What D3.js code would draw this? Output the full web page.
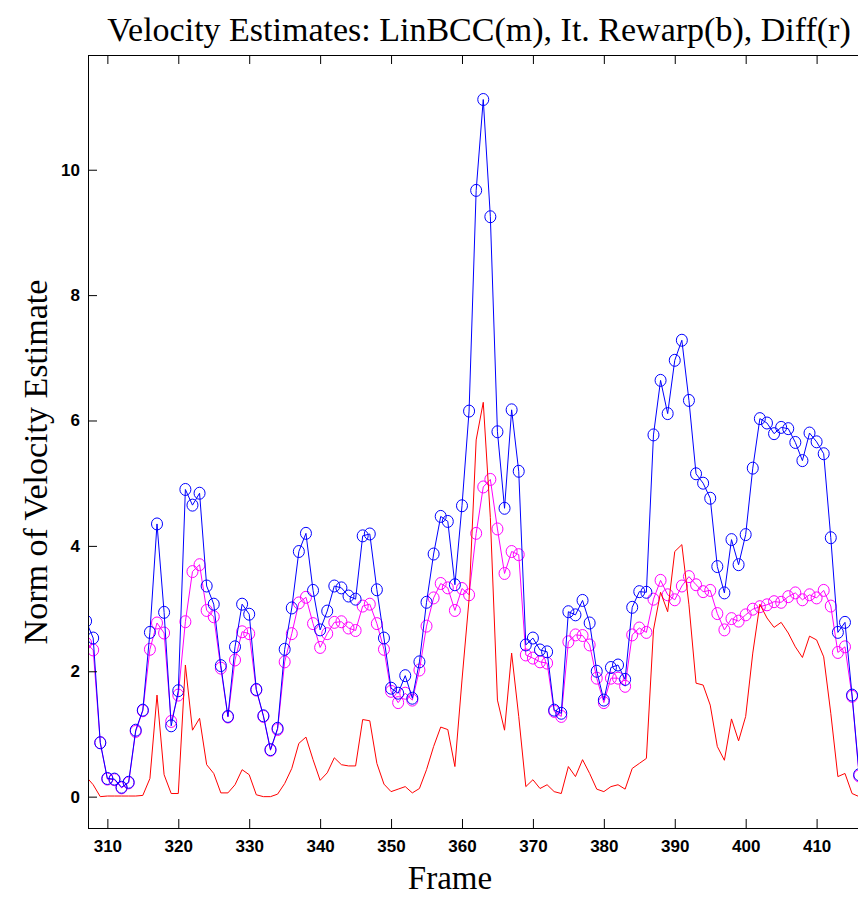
<!DOCTYPE html>
<html>
<head>
<meta charset="utf-8">
<script src="https://cdn.jsdelivr.net/npm/d3@7"></script>
<style>
  body { margin: 0; background: #fff; }
  svg { display: block; }
</style>
</head>
<body>
<div id="chart"></div>
<script>
// frames 307 .. 416
var frames = d3.range(307, 417);

// LinBCC (magenta)
var linbcc = [2.45, 2.34, 0.86, 0.28, 0.27, 0.14, 0.22, 1.04, 1.37, 2.35,
  2.77, 2.61, 1.20, 1.62, 2.79, 3.59, 3.70, 2.97, 2.87, 2.05,
  1.27, 2.18, 2.63, 2.60, 1.70, 1.28, 0.74, 1.07, 2.15, 2.60,
  3.09, 3.18, 2.76, 2.38, 2.60, 2.78, 2.79, 2.69, 2.65, 3.04,
  3.07, 2.76, 2.35, 1.68, 1.50, 1.65, 1.54, 2.02, 2.72, 3.17,
  3.40, 3.33, 2.97, 3.32, 3.22, 4.20, 4.94, 5.06, 4.27, 3.56,
  3.91, 3.86, 2.26, 2.21, 2.15, 2.13, 1.36, 1.28, 2.47, 2.58,
  2.57, 2.42, 1.89, 1.50, 1.89, 1.89, 1.76, 2.58, 2.69, 2.62,
  3.15, 3.45, 3.22, 3.14, 3.36, 3.51, 3.38, 3.27, 3.29, 2.92,
  2.66, 2.84, 2.80, 2.90, 2.99, 3.03, 3.06, 3.11, 3.10, 3.19,
  3.25, 3.14, 3.22, 3.17, 3.29, 3.04, 2.30, 2.39, 1.60, 0.33];

// It. Rewarp (blue)
var rewarp = [2.80, 2.53, 0.86, 0.29, 0.28, 0.15, 0.23, 1.06, 1.38, 2.62,
  4.35, 2.94, 1.13, 1.69, 4.90, 4.65, 4.84, 3.36, 3.07, 2.09,
  1.28, 2.39, 3.07, 2.91, 1.71, 1.29, 0.75, 1.09, 2.35, 3.01,
  3.91, 4.20, 3.29, 2.66, 2.96, 3.36, 3.33, 3.20, 3.15, 4.16,
  4.19, 3.30, 2.53, 1.73, 1.65, 1.93, 1.57, 2.15, 3.10, 3.87,
  4.47, 4.39, 3.38, 4.64, 6.15, 9.67, 11.12, 9.25, 5.82, 4.60,
  6.17, 5.19, 2.42, 2.53, 2.34, 2.31, 1.38, 1.33, 2.95, 2.90,
  3.13, 2.77, 2.00, 1.54, 2.06, 2.10, 1.87, 3.02, 3.27, 3.26,
  5.77, 6.64, 6.11, 6.96, 7.28, 6.32, 5.15, 5.00, 4.76, 3.67,
  3.25, 4.10, 3.70, 4.18, 5.24, 6.03, 5.96, 5.79, 5.89, 5.87,
  5.65, 5.36, 5.80, 5.66, 5.47, 4.13, 2.62, 2.78, 1.62, 0.35];

// Diff (red)
var diff = [0.32, 0.19, 0.00, 0.01, 0.01, 0.01, 0.01, 0.01, 0.02, 0.29,
  1.62, 0.35, 0.05, 0.05, 2.10, 1.06, 1.25, 0.51, 0.37, 0.06,
  0.06, 0.19, 0.43, 0.35, 0.03, 0.00, 0.00, 0.04, 0.21, 0.45,
  0.85, 0.95, 0.59, 0.26, 0.38, 0.62, 0.51, 0.49, 0.49, 1.23,
  1.21, 0.53, 0.20, 0.08, 0.12, 0.16, 0.06, 0.13, 0.43, 0.80,
  1.11, 1.07, 0.48, 1.86, 3.15, 5.69, 6.29, 4.45, 1.54, 1.06,
  2.29, 1.28, 0.16, 0.27, 0.13, 0.19, 0.08, 0.05, 0.48, 0.32,
  0.59, 0.37, 0.12, 0.08, 0.16, 0.19, 0.12, 0.45, 0.53, 0.61,
  2.66, 3.26, 2.95, 3.91, 4.02, 3.06, 1.81, 1.78, 1.46, 0.80,
  0.58, 1.24, 0.89, 1.28, 2.29, 3.07, 2.85, 2.70, 2.78, 2.61,
  2.39, 2.22, 2.56, 2.50, 2.23, 1.33, 0.32, 0.37, 0.05, 0.00];

var xTicks = [310, 320, 330, 340, 350, 360, 370, 380, 390, 400, 410];
var yTicks = [0, 2, 4, 6, 8, 10];

var width = 858, height = 911;
// plot box (right side runs past the picture edge)
var pl = 88, pt = 55, pr = 862, pb = 828;

var svg = d3.select("#chart").append("svg")
  .attr("width", width)
  .attr("height", height)
  .style("background", "#fff");

var x = d3.scaleLinear().domain([307.27, 416.4]).range([pl, pr]);
var y = d3.scaleLinear().domain([-0.5, 11.83]).range([pb, pt]);

svg.append("clipPath").attr("id", "plotclip")
  .append("rect")
  .attr("x", pl).attr("y", pt)
  .attr("width", pr - pl).attr("height", pb - pt);

var g = svg.append("g").attr("clip-path", "url(#plotclip)");

function pts(vals) {
  return frames.map(function(f, i) { return [f, vals[i]]; });
}

var line = d3.line()
  .x(function(d) { return x(d[0]); })
  .y(function(d) { return y(d[1]); });

// series: magenta, blue with circles; red plain line
var series = [
  { vals: linbcc, color: "#ff00ff", marks: true },
  { vals: rewarp, color: "#0000ff", marks: true },
  { vals: diff, color: "#ff0000", marks: false }
];

series.forEach(function(s) {
  var data = pts(s.vals);
  g.append("path")
    .datum(data)
    .attr("d", line)
    .attr("fill", "none")
    .attr("stroke", s.color)
    .attr("stroke-width", 1);
  if (s.marks) {
    g.selectAll(null)
      .data(data)
      .enter().append("ellipse")
      .attr("cx", function(d) { return x(d[0]); })
      .attr("cy", function(d) { return y(d[1]); })
      .attr("rx", 5.5)
      .attr("ry", 6)
      .attr("fill", "none")
      .attr("stroke", s.color)
      .attr("stroke-width", 1);
  }
});

// axes (ticks point inward like matlab)
var xAxisB = d3.axisBottom(x).tickValues(xTicks).tickSize(-9).tickPadding(12);
var xAxisT = d3.axisTop(x).tickValues(xTicks).tickSize(-9).tickFormat("");
var yAxisL = d3.axisLeft(y).tickValues(yTicks).tickSize(-9).tickPadding(8);

function styleAxis(sel) {
  sel.select(".domain").remove();
  sel.selectAll(".tick line").attr("stroke", "#000");
  sel.selectAll("text")
    .attr("fill", "#000")
    .style("font-family", "Liberation Sans, Arial, sans-serif")
    .style("font-weight", "bold")
    .style("font-size", "17px");
}

svg.append("g")
  .attr("transform", "translate(0," + pb + ")")
  .call(xAxisB).call(styleAxis);

svg.append("g")
  .attr("transform", "translate(0," + pt + ")")
  .call(xAxisT).call(styleAxis);

svg.append("g")
  .attr("transform", "translate(" + pl + ",0)")
  .call(yAxisL).call(styleAxis);

// box lines
svg.append("path")
  .attr("d", "M" + pr + "," + pt + "H" + pl + "V" + pb + "H" + pr)
  .attr("fill", "none")
  .attr("stroke", "#000")
  .attr("stroke-width", 1)
  .attr("shape-rendering", "crispEdges");

// texts
var serif = "Liberation Serif, Times New Roman, serif";

svg.append("text")
  .attr("x", 479).attr("y", 41)
  .attr("text-anchor", "middle")
  .style("font-family", serif)
  .style("font-size", "34px")
  .text("Velocity Estimates: LinBCC(m), It. Rewarp(b), Diff(r)");

svg.append("text")
  .attr("x", 450).attr("y", 889)
  .attr("text-anchor", "middle")
  .style("font-family", serif)
  .style("font-size", "33px")
  .text("Frame");

svg.append("text")
  .attr("transform", "translate(47,462) rotate(-90)")
  .attr("text-anchor", "middle")
  .style("font-family", serif)
  .style("font-size", "34px")
  .text("Norm of Velocity Estimate");
</script>
</body>
</html>
